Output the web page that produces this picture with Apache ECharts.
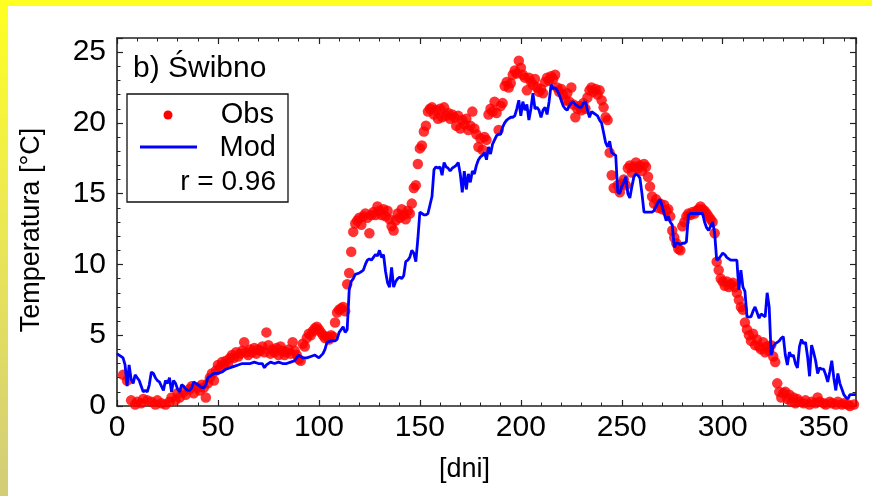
<!DOCTYPE html>
<html>
<head>
<meta charset="utf-8">
<script src="https://cdn.jsdelivr.net/npm/echarts@6/dist/echarts.min.js"></script>
<style>
  html, body { margin: 0; padding: 0; background: #ffffff; }
  #wrap { position: relative; width: 872px; height: 496px; overflow: hidden; }
  #topBand { position: absolute; left: 0; top: 0; width: 872px; height: 6px; background: #ffff22; z-index: 2; }
  #leftBand { position: absolute; left: 0; top: 0; width: 8px; height: 496px;
              background: linear-gradient(to bottom, #ffff22 0%, #eeea50 40%, #d2cd78 100%); z-index: 2; }
  #chart { position: absolute; left: 0; top: 0; width: 872px; height: 496px; }
</style>
</head>
<body>
<div id="wrap">
  <div id="chart"></div>
  <div id="topBand"></div>
  <div id="leftBand"></div>
</div>
<script>
// Observed daily water temperature (day of year, °C)
const obsDay = [3,5,7,9,10,12,13,15,17,19,20,22,24,26,27,29,30,31,33,34,36,37,38,40,41,42,43,44,45,46,47,48,49,50,
  51,52,53,54,55,56,57,58,59,60,61,62,63,64,65,66,67,68,69,70,71,72,73,74,75,76,77,78,79,80,
  81,82,83,84,85,86,87,88,89,90,91,92,93,94,95,96,97,98,99,100,101,102,103,104,105,106,107,108,109,110,
  111,112,113,114,115,116,117,118,119,120,121,122,123,124,125,126,127,128,129,130,131,132,133,134,135,136,137,138,139,140,
  141,142,143,144,145,146,147,148,149,150,151,152,153,154,155,156,157,158,159,160,161,162,163,164,165,166,167,168,169,170,
  171,172,173,174,175,176,177,178,179,180,181,182,183,184,185,186,187,188,189,190,191,192,193,194,195,196,197,198,199,200,
  201,202,203,204,205,206,207,208,209,210,211,212,213,214,215,216,217,218,219,220,221,222,223,224,225,226,227,228,229,230,
  231,232,233,234,235,236,237,238,239,240,241,242,243,244,245,246,248,249,250,251,252,253,254,255,256,257,258,259,260,
  261,262,263,264,265,266,267,268,269,270,271,272,273,274,275,276,277,278,279,280,281,282,283,284,285,286,287,288,289,290,
  291,292,293,294,295,296,297,298,299,300,301,302,303,304,305,306,307,308,309,310,311,312,313,314,315,316,317,318,319,320,
  321,322,323,324,325,326,327,328,329,330,331,332,333,334,335,336,337,338,340,341,343,344,346,347,348,350,351,353,354,356,
  357,359,360,362,363,365];
const obsTemp = [2.2,1.8,0.4,0.1,0.3,0.2,0.5,0.4,0.3,0.1,0.4,0.2,0.1,0.3,0.6,0.4,0.9,0.6,1.0,0.8,1.2,1.4,0.9,1.3,1.1,1.5,1.3,0.6,1.6,2.0,2.3,1.8,2.5,2.9,
  2.7,3.1,2.9,3.2,3.0,3.4,3.6,3.4,3.8,3.5,3.7,3.9,4.5,3.8,3.6,4.0,3.8,4.1,3.7,4.0,3.9,4.2,3.8,5.2,4.3,3.7,4.0,3.8,4.1,3.6,
  4.2,3.9,3.6,3.8,4.0,3.7,4.5,3.9,3.6,3.3,3.2,4.4,4.2,4.8,5.1,5.0,5.3,5.5,5.6,5.4,5.2,5.0,4.8,4.9,4.7,5.0,4.9,5.9,6.6,6.8,
  6.9,7.0,6.7,8.6,9.4,10.9,12.3,12.9,13.1,13.3,12.8,13.4,13.6,13.3,12.2,13.5,13.7,13.5,14.1,13.8,13.5,13.9,13.4,13.8,13.2,12.7,12.4,13.1,13.6,13.3,
  13.9,13.5,13.2,13.8,13.6,14.3,15.4,15.6,17.1,18.2,18.4,19.4,19.8,20.8,21.0,21.1,20.6,20.9,20.3,21.0,20.4,21.1,20.5,20.7,20.3,20.6,20.4,19.8,20.5,19.6,
  20.2,19.9,20.3,19.5,19.8,20.8,19.6,19.2,18.3,18.9,18.1,19.0,18.8,20.6,21.0,20.8,21.5,20.7,19.5,21.2,21.4,22.6,22.9,22.5,22.8,23.4,23.7,23.5,24.4,23.9,
  23.4,23.2,22.3,23.2,22.9,22.7,23.1,22.5,22.2,22.4,22.1,22.9,23.2,23.0,23.3,23.1,23.4,22.5,22.2,22.4,22.0,21.6,22.1,21.5,22.5,21.3,20.4,21.0,21.2,20.9,
  21.4,21.0,21.8,22.3,22.5,22.2,22.4,22.0,22.3,21.6,21.1,20.4,20.2,17.9,16.3,15.4,15.6,15.1,15.7,16.0,15.6,16.8,17.0,16.5,16.9,17.2,16.8,17.0,16.6,
  17.1,16.9,16.2,15.5,14.8,14.3,14.6,14.0,14.3,13.9,14.2,13.8,13.9,13.4,12.4,11.9,11.5,11.1,11.0,12.7,13.0,13.4,13.6,13.5,13.7,13.6,13.8,13.9,14.1,13.9,
  13.8,13.6,13.4,13.2,13.0,12.2,10.2,9.6,9.0,8.8,8.5,8.8,8.4,8.6,8.7,8.4,8.0,7.5,7.0,6.8,5.9,5.4,5.0,4.6,5.1,4.3,4.7,4.2,4.0,4.5,
  3.8,4.2,3.9,4.3,3.5,3.1,1.6,1.0,0.6,0.9,1.0,0.5,0.8,0.3,0.6,0.2,0.5,0.3,0.2,0.4,0.1,0.3,0.2,0.6,0.3,0.2,0.1,0.3,0.2,0.1,
  0.3,0.1,0.2,0.1,0.0,0.1];

// Modelled daily water temperature (day of year, °C)
const modDay = [0,1,2,3,4,5,6,7,8,9,10,11,12,13,14,15,16,17,18,19,20,21,22,23,24,25,26,27,28,29,30,31,32,33,34,35,36,37,38,39,40,
  41,42,43,44,45,46,47,48,50,52,54,56,58,60,62,64,66,68,70,72,73,74,76,78,80,82,84,86,88,90,92,94,96,98,100,102,103,104,106,108,
  109,110,111,112,113,114,115,116,117,118,120,121,122,123,124,125,126,127,128,129,130,131,132,133,134,135,136,137,138,139,140,
  141,142,143,144,145,146,147,148,149,150,151,152,153,154,155,156,157,158,159,160,161,162,163,164,165,166,167,168,169,170,
  171,172,173,174,175,176,177,178,179,180,181,182,183,184,185,186,187,188,189,190,191,192,193,194,195,196,197,198,199,200,
  201,202,203,204,205,206,207,208,209,210,211,212,213,214,215,216,217,218,219,220,221,222,223,224,225,226,227,228,229,230,
  231,232,233,234,235,236,237,238,239,240,241,242,243,244,245,246,247,248,249,250,251,252,253,254,255,256,257,258,259,260,
  261,262,263,264,265,266,267,268,269,270,271,272,273,274,275,276,277,278,279,280,281,282,283,284,286,288,290,
  291,292,293,294,295,296,297,298,299,300,301,302,303,304,305,306,307,308,309,310,311,312,313,314,315,316,317,318,319,320,
  321,322,323,324,325,326,327,328,329,330,331,332,333,334,335,336,337,338,339,340,341,342,343,344,345,346,347,348,349,350,
  351,352,353,354,355,356,357,358,359,360,361,362,363,364,365,366];
const modTemp = [3.7,3.6,3.5,3.4,2.9,1.4,2.9,1.9,1.6,2.2,2.0,1.8,1.4,1.0,1.1,1.0,1.5,2.4,2.3,2.0,1.8,1.7,1.4,1.1,1.8,1.6,2.0,1.0,1.8,1.6,1.2,1.0,1.5,1.4,1.2,1.1,1.1,1.3,1.7,1.6,1.5,
  1.4,1.3,1.3,1.5,2.0,2.1,2.2,2.3,2.3,2.4,2.6,2.7,2.8,2.9,3.0,3.0,3.0,3.1,3.0,3.0,2.7,2.9,3.1,3.0,3.1,3.0,3.0,3.1,3.2,3.6,3.4,3.4,3.5,3.6,3.4,3.7,4.0,4.5,4.6,4.6,
  4.7,5.2,5.4,5.6,5.2,5.4,8.2,8.8,9.0,9.3,9.4,9.5,9.6,10.0,10.3,10.4,10.3,10.5,10.7,10.6,11.0,10.5,10.7,9.5,8.7,8.4,9.8,8.4,8.8,9.0,9.1,
  9.0,9.2,10.2,10.3,10.5,11.0,10.8,10.2,11.8,13.7,13.6,13.5,13.5,13.6,14.2,14.8,16.7,16.9,16.8,16.9,16.3,17.2,16.9,16.8,16.6,16.8,16.9,17.0,17.2,16.4,
  15.1,16.6,15.3,16.4,15.8,16.6,16.4,17.0,17.4,17.6,17.7,17.9,17.4,18.3,17.8,18.5,18.8,19.1,19.2,19.2,19.7,20.0,20.2,20.3,20.4,20.4,20.5,21.0,21.6,20.5,
  21.5,20.9,21.3,20.2,21.0,22.1,21.0,21.1,20.9,20.4,20.9,21.1,20.6,21.5,22.7,22.4,22.5,22.3,22.0,21.6,21.2,21.0,20.9,21.2,21.4,21.5,21.3,21.2,21.1,21.1,
  21.4,21.5,20.9,20.4,20.8,20.7,20.6,20.5,20.2,20.0,19.3,18.6,18.3,18.7,17.9,17.8,17.7,15.1,15.0,15.5,15.8,16.2,15.0,14.7,15.5,16.2,16.4,16.3,16.1,15.0,
  13.7,13.7,13.7,13.7,13.7,13.8,14.1,14.4,14.6,14.1,13.6,13.1,13.4,13.0,12.8,11.2,11.5,11.5,11.4,11.5,11.5,11.6,13.5,13.6,13.6,13.6,13.6,
  13.0,12.6,12.4,12.7,13.0,12.2,10.3,10.4,10.6,10.8,10.7,10.5,10.4,10.3,10.3,10.3,10.3,8.2,9.6,8.4,8.1,6.3,6.3,6.3,6.7,7.0,6.6,6.2,6.5,6.4,
  6.3,8.0,7.0,3.6,4.2,4.4,4.5,4.6,4.8,4.9,3.6,2.9,3.8,3.5,3.6,3.0,2.7,4.2,4.7,4.4,4.5,3.5,2.1,4.3,3.8,3.2,2.3,2.7,2.6,2.6,
  2.2,1.7,2.4,3.2,2.0,1.1,2.3,1.6,1.2,0.8,0.6,0.5,0.8,0.8,0.8,0.8];

const xTicks = { min: 0, max: 366, step: 50 };
const yTicks = { min: 0, max: 26, step: 5 };

const obsData = obsDay.map((d, i) => [d, obsTemp[i]]);
const modData = modDay.map((d, i) => [d, modTemp[i]]);

const FONT = '"Liberation Sans", Arial, sans-serif';
const ink = '#000000';
const frame = '#222222';

function axisBase(showLabels, pos) {
  return {
    type: 'value',
    position: pos,
    axisLine: { show: true, onZero: false, lineStyle: { color: frame, width: 1.6 } },
    axisTick: { show: true, inside: true, length: 6, lineStyle: { color: frame, width: 1.2 } },
    minorTick: { show: true, splitNumber: 5, length: 3.5, lineStyle: { color: frame, width: 1 } },
    splitLine: { show: false },
    minorSplitLine: { show: false },
    axisLabel: { show: showLabels, color: ink, fontFamily: FONT, fontSize: 30, showMaxLabel: false }
  };
}

const chart = echarts.init(document.getElementById('chart'), null, { renderer: 'canvas' });
chart.setOption({
  backgroundColor: '#ffffff',
  animation: false,
  grid: { left: 117, right: 16, top: 38, bottom: 90, containLabel: false },
  xAxis: [
    Object.assign(axisBase(true, 'bottom'), {
      min: xTicks.min, max: xTicks.max, interval: xTicks.step,
      name: '[dni]', nameLocation: 'middle', nameGap: 50,
      nameTextStyle: { color: ink, fontFamily: FONT, fontSize: 27, padding: [0, 44, 0, 0] },
      axisLabel: { show: true, color: ink, fontFamily: FONT, fontSize: 30, margin: 7, showMaxLabel: false }
    }),
    Object.assign(axisBase(false, 'top'), { min: xTicks.min, max: xTicks.max, interval: xTicks.step })
  ],
  yAxis: [
    Object.assign(axisBase(true, 'left'), {
      min: yTicks.min, max: yTicks.max, interval: yTicks.step,
      name: 'Temperatura [°C]', nameLocation: 'middle', nameGap: 72, nameRotate: 90,
      nameTextStyle: { color: ink, fontFamily: FONT, fontSize: 27, padding: [0, 16, 0, 0] },
      axisLabel: { show: true, color: ink, fontFamily: FONT, fontSize: 30, margin: 11, showMaxLabel: false }
    }),
    Object.assign(axisBase(false, 'right'), { min: yTicks.min, max: yTicks.max, interval: yTicks.step })
  ],
  series: [
    {
      name: 'Obs', type: 'scatter', data: obsData,
      symbol: 'circle', symbolSize: 10.5,
      itemStyle: { color: '#ff0000' },
      z: 2
    },
    {
      name: 'Mod', type: 'line', data: modData,
      showSymbol: false, symbol: 'none',
      lineStyle: { color: '#0000ff', width: 2.8 },
      z: 3
    }
  ],
  graphic: [
    { type: 'text', left: 133, top: 54, z: 10,
      style: { text: 'b) Świbno', fill: ink, font: '30px ' + FONT } },
    { type: 'rect', shape: { x: 127, y: 94, width: 161, height: 108 }, z: 10,
      style: { fill: '#ffffff', stroke: '#111111', lineWidth: 1.3 } },
    { type: 'circle', shape: { cx: 168, cy: 115, r: 4.5 }, z: 11, style: { fill: '#ff0000' } },
    { type: 'line', shape: { x1: 140, y1: 147, x2: 197, y2: 147 }, z: 11,
      style: { stroke: '#0000ff', lineWidth: 2.8 } },
    { type: 'text', x: 274, y: 115, z: 11,
      style: { text: 'Obs', fill: ink, font: '29px ' + FONT, textAlign: 'right', textVerticalAlign: 'middle' } },
    { type: 'text', x: 276, y: 148, z: 11,
      style: { text: 'Mod', fill: ink, font: '29px ' + FONT, textAlign: 'right', textVerticalAlign: 'middle' } },
    { type: 'text', x: 276, y: 182, z: 11,
      style: { text: 'r = 0.96', fill: ink, font: '28px ' + FONT, textAlign: 'right', textVerticalAlign: 'middle' } }
  ]
});
</script>
</body>
</html>
